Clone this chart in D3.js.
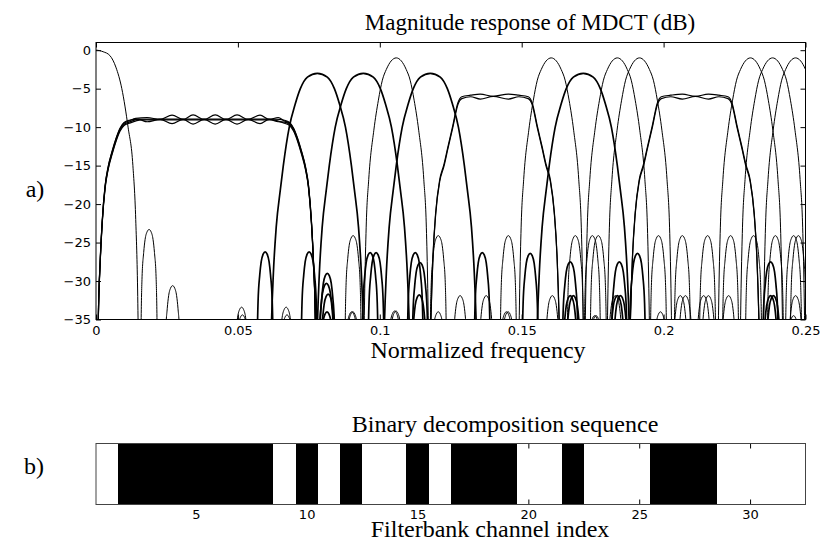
<!DOCTYPE html>
<html>
<head>
<meta charset="utf-8">
<script src="https://cdn.jsdelivr.net/npm/d3@7"></script>
<style>
  body { margin: 0; background: #fff; }
  svg { display: block; }
  .serif { font-family: "Liberation Serif", "Times New Roman", serif; fill: #000; }
  .tick text { font-family: "DejaVu Sans", "Liberation Sans", Arial, sans-serif; font-size: 13px; fill: #000; }
  .tick line { stroke: #000; }
  .curve { fill: none; stroke: #000; stroke-linejoin: round; }
</style>
</head>
<body>
<svg id="chart" width="821" height="540"></svg>
<script>
// ---- values ----
const freqTicks = [0, 0.05, 0.1, 0.15, 0.2, 0.25];
const dbTicks = [0, -5, -10, -15, -20, -25, -30, -35];
const channelTicks = [5, 10, 15, 20, 25, 30];

// binary decomposition sequence, channels 1..32
const decomposition = [0, 1, 1, 1, 1, 1, 1, 1, 0, 1, 0, 1, 0, 0, 1, 0,
                       1, 1, 1, 0, 0, 1, 0, 0, 0, 1, 1, 1, 0, 0, 0, 0];

// lobe outlines: [offset from peak (normalized freq), dB below peak]
const dcShape = [[0, 0], [0.0025, -0.2], [0.0049, -0.7], [0.0070, -2.2], [0.0091, -5],
                 [0.0113, -10], [0.0130, -15], [0.0140, -22], [0.0147, -32], [0.0150, -40]];
const singleShape = [[0, 0], [0.0018, -0.4], [0.0035, -1.5], [0.0049, -2.9], [0.0063, -5.5],
                     [0.0079, -9.4], [0.0097, -15.8], [0.0106, -22], [0.0111, -30], [0.0115, -40]];
const pairShape = [[0, 0], [0.0035, -0.5], [0.0060, -2], [0.0078, -4], [0.0099, -7],
                   [0.0120, -12], [0.0130, -15], [0.0145, -20], [0.0155, -26], [0.0162, -33], [0.0166, -40]];
const sideShape = [[0, 0], [0.0007, -0.3], [0.0014, -1.3], [0.0019, -3], [0.0025, -6.5],
                   [0.0028, -12], [0.0030, -20]];

// band edges: [offset beyond outermost channel, dB below band level]
const edge9Shape = [[0, 0], [0.0018, -0.3], [0.0032, -1], [0.0046, -2.3], [0.0060, -4],
                    [0.0074, -6], [0.0085, -8.5], [0.0095, -13], [0.0102, -18], [0.0109, -26], [0.0113, -40]];
const edge6Shape = [[0, 0], [0.0014, -0.8], [0.0032, -3.8], [0.0049, -6.5], [0.0063, -8.8],
                    [0.0078, -10.8], [0.0092, -15], [0.0102, -21], [0.0109, -29], [0.0115, -40]];

// main lobes: [peak frequency, peak dB]
const dcLobe = [0, 0];
const singleLobes = [[0.1058, -1], [0.1604, -1], [0.1837, -1], [0.1915, -1],
                     [0.2306, -1], [0.2384, -1], [0.2465, -1]];
const pairLobes = [[0.0780, -3], [0.0942, -3], [0.1178, -3], [0.1717, -3]];

// merged bands: outermost channel centres and the passband of each filter
const bandA = [0.0117, 0.0664];
const bandARipple = [
  [[0.0117, -9.2], [0.0140, -8.85], [0.0180, -8.75], [0.0226, -9.0], [0.0268, -8.45], [0.0307, -9.0],
   [0.0342, -8.4], [0.0381, -9.0], [0.0420, -8.4], [0.0458, -9.0], [0.0497, -8.4], [0.0536, -9.0],
   [0.0578, -8.45], [0.0610, -9.0], [0.0642, -8.75], [0.0664, -9.2]],
  [[0.0117, -9.35], [0.0150, -9.0], [0.0180, -9.3], [0.0226, -9.0], [0.0268, -9.55], [0.0307, -9.0],
   [0.0342, -9.6], [0.0381, -9.0], [0.0420, -9.6], [0.0458, -9.0], [0.0497, -9.6], [0.0536, -9.0],
   [0.0578, -9.55], [0.0610, -9.0], [0.0642, -9.3], [0.0664, -9.35]],
  [[0.0117, -9.1], [0.0150, -8.95], [0.0630, -8.95], [0.0664, -9.1]],
  [[0.0117, -9.5], [0.0160, -9.05], [0.0620, -9.05], [0.0664, -9.5]]
];
const bandB = [0.1289, 0.1523];
const bandBRipple = [
  [[0.1289, -6.05], [0.1320, -5.85], [0.1354, -5.7], [0.1400, -6.0], [0.1453, -5.7], [0.1490, -5.85], [0.1523, -6.05]],
  [[0.1289, -6.3], [0.1320, -6.05], [0.1354, -6.35], [0.1400, -6.0], [0.1453, -6.35], [0.1490, -6.05], [0.1523, -6.3]]
];
const bandC = [0.1992, 0.2227];
const bandCRipple = [
  [[0.1992, -6.05], [0.2025, -5.85], [0.2066, -5.7], [0.2112, -6.0], [0.2158, -5.7], [0.2195, -5.85], [0.2227, -6.05]],
  [[0.1992, -6.3], [0.2025, -6.05], [0.2066, -6.35], [0.2112, -6.0], [0.2158, -6.35], [0.2195, -6.05], [0.2227, -6.3]]
];

// side lobes: [centre frequency, peak dB]
const sideLobesThin = [
  [0.0187, -23.3], [0.0270, -30.6], [0.0513, -33.4], [0.0516, -34.4], [0.0670, -33.4], [0.0673, -34.4],
  [0.0906, -24.1], [0.0901, -34.0], [0.0905, -34.0], [0.1052, -33.9], [0.1057, -33.9],
  [0.1206, -24.1], [0.1206, -34.0], [0.1283, -31.9], [0.1375, -31.9], [0.1453, -24.1],
  [0.1446, -34.0], [0.1452, -34.0], [0.1608, -31.9], [0.1689, -24.1], [0.1749, -24.1],
  [0.1770, -24.1], [0.1757, -34.5], [0.1762, -34.5], [0.1830, -31.9], [0.1982, -24.1],
  [0.1989, -34.0], [0.2066, -24.1], [0.2059, -31.9], [0.2077, -31.9], [0.2155, -24.1],
  [0.2141, -31.9], [0.2158, -31.9], [0.2236, -24.1], [0.2229, -31.9], [0.2317, -24.1],
  [0.2394, -24.1], [0.2458, -24.1], [0.2475, -24.1], [0.2465, -31.9], [0.2458, -34.5]
];
const sideLobesThick = [
  [0.0596, -26.2], [0.0751, -26.2], [0.0815, -29.0], [0.0812, -30.3], [0.0818, -31.7], [0.0814, -34.0],
  [0.0966, -26.3], [0.0987, -26.3], [0.1125, -26.3], [0.1142, -27.6], [0.1139, -31.8],
  [0.1361, -26.3], [0.1530, -26.4], [0.1671, -27.5], [0.1671, -31.9], [0.1682, -31.9],
  [0.1844, -27.5], [0.1837, -31.9], [0.1848, -31.9], [0.1908, -26.4], [0.2377, -27.5],
  [0.2377, -31.9], [0.2387, -31.9]
];

// ---- layout ----
const svg = d3.select("#chart");
const upper = {left: 96, right: 805.5, top: 42.5, bottom: 319.5};
const lower = {left: 96, right: 805.5, top: 443.5, bottom: 504.5};

const x = d3.scaleLinear().domain([0, 0.25]).range([upper.left, upper.right]);
const y = d3.scaleLinear().domain([-35, 1]).range([upper.bottom, upper.top]);
const xc = d3.scaleLinear().domain([0.5, 32.5]).range([lower.left, lower.right]);

svg.append("defs").append("clipPath").attr("id", "plotClip")
  .append("rect")
  .attr("x", upper.left).attr("y", upper.top)
  .attr("width", upper.right - upper.left).attr("height", upper.bottom - upper.top);

const line = d3.line()
  .x(d => x(d[0]))
  .y(d => y(d[1]))
  .curve(d3.curveMonotoneX);

// symmetric lobe around a peak
function lobe(centre, peak, shape) {
  const left = shape.slice(1).reverse().map(([df, d]) => [centre - df, peak + d]);
  const right = shape.map(([df, d]) => [centre + df, peak + d]);
  return left.concat(right);
}

// merged band: passband ripple plus the two skirts
function band(outer, ripple, edge) {
  const l = ripple[0][1], r = ripple[ripple.length - 1][1];
  const left = edge.slice(1).reverse().map(([df, d]) => [outer[0] - df, l + d]);
  const right = edge.slice(1).map(([df, d]) => [outer[1] + df, r + d]);
  return left.concat(ripple, right);
}

const curves = svg.append("g").attr("clip-path", "url(#plotClip)");

function draw(points, width) {
  curves.append("path")
    .attr("class", "curve")
    .attr("d", line(points))
    .attr("stroke-width", width);
}

sideLobesThin.forEach(([c, p]) => draw(lobe(c, p, sideShape), 1));
sideLobesThick.forEach(([c, p]) => draw(lobe(c, p, sideShape), 1.7));

draw(lobe(dcLobe[0], dcLobe[1], dcShape), 1);
singleLobes.forEach(([c, p]) => draw(lobe(c, p, singleShape), 1));
pairLobes.forEach(([c, p]) => draw(lobe(c, p, pairShape), 1.7));

bandARipple.forEach(r => draw(band(bandA, r, edge9Shape), 1.2));
bandBRipple.forEach(r => draw(band(bandB, r, edge6Shape), 1.2));
bandCRipple.forEach(r => draw(band(bandC, r, edge6Shape), 1.2));

// axes of the upper plot, MATLAB style ticks pointing inward
const fmt = d3.format("~g");
svg.append("g")
  .attr("transform", `translate(0,${upper.bottom})`)
  .call(d3.axisBottom(x).tickValues(freqTicks).tickFormat(fmt).tickSizeInner(-5).tickSizeOuter(0).tickPadding(6))
  .call(g => g.select(".domain").remove());
svg.append("g")
  .attr("transform", `translate(0,${upper.top})`)
  .call(d3.axisTop(x).tickValues(freqTicks).tickFormat("").tickSizeInner(-5).tickSizeOuter(0))
  .call(g => g.select(".domain").remove());
svg.append("g")
  .attr("transform", `translate(${upper.left},0)`)
  .call(d3.axisLeft(y).tickValues(dbTicks).tickFormat(fmt).tickSizeInner(-5).tickSizeOuter(0).tickPadding(5))
  .call(g => g.select(".domain").remove());
svg.append("g")
  .attr("transform", `translate(${upper.right},0)`)
  .call(d3.axisRight(y).tickValues(dbTicks).tickFormat("").tickSizeInner(-5).tickSizeOuter(0))
  .call(g => g.select(".domain").remove());

svg.append("rect")
  .attr("x", upper.left).attr("y", upper.top)
  .attr("width", upper.right - upper.left).attr("height", upper.bottom - upper.top)
  .attr("fill", "none").attr("stroke", "#000");

// lower plot: decomposition sequence as black / white cells
svg.append("g").selectAll("rect")
  .data(decomposition.map((v, i) => ({ch: i + 1, v})))
  .join("rect")
  .attr("x", d => xc(d.ch - 0.5))
  .attr("y", lower.top)
  .attr("width", d => xc(d.ch + 0.5) - xc(d.ch - 0.5))
  .attr("height", lower.bottom - lower.top)
  .attr("fill", d => d.v ? "#000" : "#fff")
  .attr("shape-rendering", "crispEdges");

svg.append("g")
  .attr("transform", `translate(0,${lower.bottom})`)
  .call(d3.axisBottom(xc).tickValues(channelTicks).tickFormat(fmt).tickSizeInner(-5).tickSizeOuter(0).tickPadding(5))
  .call(g => g.select(".domain").remove());
svg.append("g")
  .attr("transform", `translate(0,${lower.top})`)
  .call(d3.axisTop(xc).tickValues(channelTicks).tickFormat("").tickSizeInner(-5).tickSizeOuter(0))
  .call(g => g.select(".domain").remove());

svg.append("rect")
  .attr("x", lower.left).attr("y", lower.top)
  .attr("width", lower.right - lower.left).attr("height", lower.bottom - lower.top)
  .attr("fill", "none").attr("stroke", "#444");

// titles and labels
const texts = [
  {t: "Magnitude response of MDCT (dB)", x: 530, y: 30, size: 23},
  {t: "Normalized frequency", x: 478, y: 358, size: 24},
  {t: "Binary decomposition sequence", x: 505, y: 432, size: 24},
  {t: "Filterbank channel index", x: 490, y: 537, size: 24},
  {t: "a)", x: 35, y: 197, size: 24},
  {t: "b)", x: 34, y: 474, size: 24}
];
svg.append("g").selectAll("text")
  .data(texts)
  .join("text")
  .attr("class", "serif")
  .attr("x", d => d.x)
  .attr("y", d => d.y)
  .style("font-size", d => d.size + "px")
  .attr("text-anchor", "middle")
  .text(d => d.t);
</script>
</body>
</html>
